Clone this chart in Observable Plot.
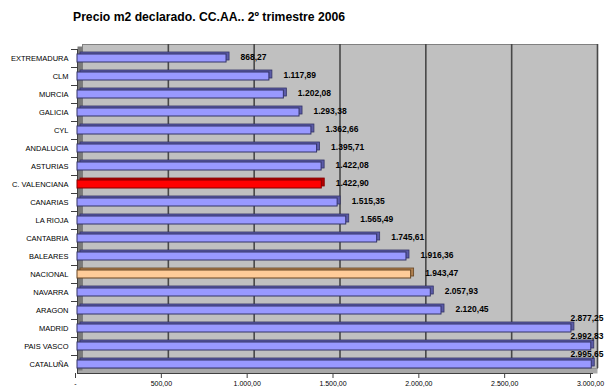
<!DOCTYPE html>
<html>
<head>
<meta charset="utf-8">
<script src="https://cdn.jsdelivr.net/npm/d3@7"></script>
<script src="https://cdn.jsdelivr.net/npm/@observablehq/plot@0.6"></script>
<style>
  html, body { margin: 0; padding: 0; background: #fff; }
  #wrap { position: relative; width: 606px; height: 389px; overflow: hidden; font-family: "Liberation Sans", Arial, sans-serif; }
  #title { position: absolute; left: 73px; top: 10px; font-size: 12.2px; font-weight: bold; color: #000; white-space: nowrap; }
  #chart { position: absolute; left: 0; top: 0; }
</style>
</head>
<body>
<div id="wrap">
  <div id="chart"></div>
  <div id="title">Precio m2 declarado. CC.AA.. 2º trimestre 2006</div>
</div>
<script>
const regions = ["EXTREMADURA","CLM","MURCIA","GALICIA","CYL","ANDALUCIA","ASTURIAS","C. VALENCIANA","CANARIAS","LA RIOJA","CANTABRIA","BALEARES","NACIONAL","NAVARRA","ARAGON","MADRID","PAIS VASCO","CATALUÑA"];
const prices = [868.27,1117.89,1202.08,1293.38,1362.66,1395.71,1422.08,1422.90,1515.35,1565.49,1745.61,1916.36,1943.47,2057.93,2120.45,2877.25,2992.83,2995.65];
const tickValues = [0,500,1000,1500,2000,2500,3000];
const tickLabels = ["-","500,00","1.000,00","1.500,00","2.000,00","2.500,00","3.000,00"];
const gridValues = [500,1000,1500,2000,2500,3000];
const highlightRegion = "C. VALENCIANA";
const nationalRegion = "NACIONAL";

const fmt = d3.formatLocale({decimal: ",", thousands: ".", grouping: [3], currency: ["", "€"]}).format(",.2f");

const data = regions.map((r, i) => ({region: r, value: prices[i]}));
const faceColor = d => d.region === highlightRegion ? "#FF0000" : d.region === nationalRegion ? "#FFCC99" : "#9999FF";
const sideColor = d => d.region === highlightRegion ? "#B00000" : d.region === nationalRegion ? "#B08050" : "#5C5CA8";
const strokeColor = d => d.region === highlightRegion ? "#800000" : d.region === nationalRegion ? "#664422" : "#333366";

const labelCap = 2790;
const normalLabels = data.filter(d => d.value <= labelCap);
const cappedLabels = data.filter(d => d.value > labelCap);

const chart = Plot.plot({
  width: 606,
  height: 389,
  marginTop: 49,
  marginBottom: 16,
  marginLeft: 77,
  marginRight: 14,
  style: {fontFamily: "Liberation Sans, Arial, sans-serif", background: "transparent", color: "#000", overflow: "visible"},
  x: {domain: [0, 3000], axis: null},
  y: {domain: regions, paddingInner: 0.557, paddingOuter: 0.25, axis: null, label: null},
  color: {type: "identity"},
  marks: [
    // back wall
    Plot.frame({fill: "#C0C0C0", stroke: "#808080", dx: 5, dy: -5}),
    // floor
    Plot.frame({anchor: "bottom", stroke: "#A8A8A8", strokeWidth: 5, dx: 2.5, dy: -2.5}),
    // gridlines on back wall
    Plot.ruleX(gridValues, {stroke: "#484848", strokeWidth: 1.6, dx: 5, dy: -5}),
    // left wall
    Plot.ruleX([0], {stroke: "#7A7A7A", strokeWidth: 5, dx: 2.5, dy: -2.5}),
    Plot.ruleX([0], {stroke: "#404040", strokeWidth: 1}),
    Plot.frame({anchor: "bottom", stroke: "#404040", strokeWidth: 1}),
    // bar depth (top + end)
    Plot.barX(data, {x: "value", y: "region", fill: sideColor, stroke: strokeColor, strokeWidth: 0.8, dx: 3, dy: -2}),
    // bar front face
    Plot.barX(data, {x: "value", y: "region", fill: faceColor, stroke: strokeColor, strokeWidth: 1}),
    // value labels
    Plot.text(normalLabels, {x: "value", y: "region", text: d => fmt(d.value), textAnchor: "start", dx: 14, dy: -1, fontSize: 8.5, fontWeight: "bold", fill: "#000"}),
    Plot.text(cappedLabels, {x: () => labelCap, y: "region", text: d => fmt(d.value), textAnchor: "start", dx: 14, dy: -10, fontSize: 8.5, fontWeight: "bold", fill: "#000"}),
    // y axis labels
    Plot.axisY({tickSize: 0, tickPadding: 9, fontSize: 7.5, fill: "#000", label: null}),
    // y axis tick marks between categories
    Plot.axisY({tickSize: 6, tickFormat: () => "", dy: -9, stroke: "#404040", label: null}),
    // x axis
    Plot.axisX(tickValues, {tickSize: 5, tickPadding: 3, dx: -2, fontSize: 7, fill: "#000", stroke: "#404040", label: null, tickFormat: d => tickLabels[tickValues.indexOf(d)]})
  ]
});
document.getElementById("chart").appendChild(chart);
</script>
</body>
</html>
